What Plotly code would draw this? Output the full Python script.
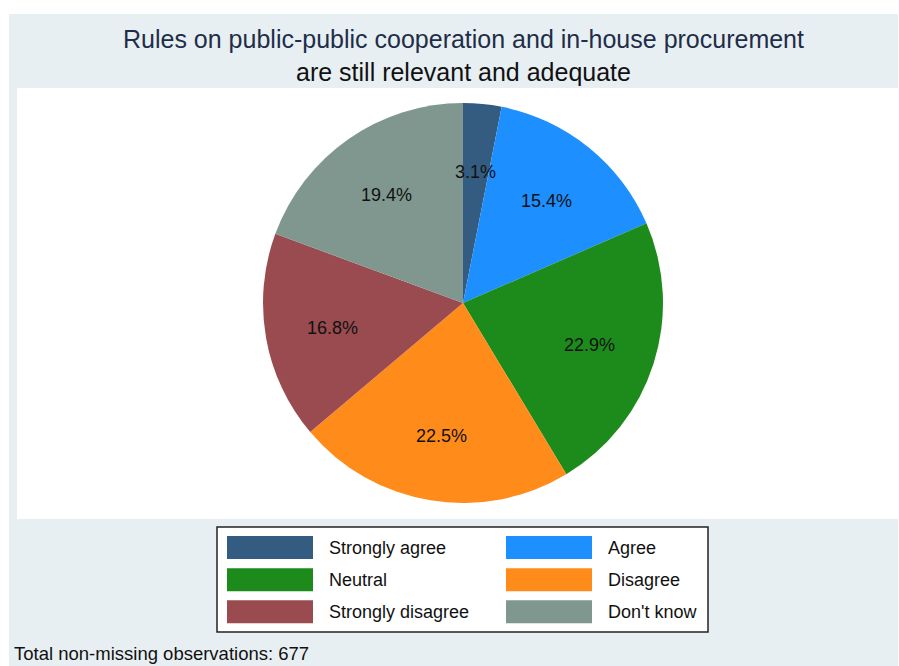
import math
import plotly.graph_objects as go

# ---- data ----
title_lines = ["Rules on public-public cooperation and in-house procurement",
               "are still relevant and adequate"]
categories = ["Strongly agree", "Agree", "Neutral", "Disagree", "Strongly disagree", "Don't know"]
percentages = [3.1, 15.4, 22.9, 22.5, 16.8, 19.4]
colors = ["#345B80", "#1E8FFF", "#1C8B1C", "#FF8C1A", "#994B50", "#7F978F"]
total_obs = 677
footnote = f"Total non-missing observations: {total_obs}"

# ---- layout geometry (window pixels, top-left origin) ----
W, H = 899, 666
FONT = "Liberation Sans, Arial, sans-serif"
cx, cy, R = 463, 303, 200          # pie centre / radius
label_frac = 0.665                  # label distance as fraction of radius


def px(x):
    return x / W


def py(y):
    return 1 - y / H


fig = go.Figure()
fig.add_trace(go.Pie(
    labels=categories,
    values=percentages,
    sort=False,
    direction="clockwise",
    rotation=0,
    marker=dict(colors=colors, line=dict(width=0)),
    textinfo="none",
    hoverinfo="label+percent",
    showlegend=False,
    domain=dict(x=[px(cx - R), px(cx + R)], y=[py(cy + R), py(cy - R)]),
))

shapes = []
annotations = []

# backgrounds
shapes.append(dict(type="rect", xref="paper", yref="paper", x0=px(9), x1=px(898), y0=py(H), y1=py(14),
                   fillcolor="#E8EFF2", line=dict(width=0), layer="below"))
shapes.append(dict(type="rect", xref="paper", yref="paper", x0=px(17), x1=px(898), y0=py(519), y1=py(88),
                   fillcolor="#FFFFFF", line=dict(width=0), layer="below"))

# slice labels, positioned from the data
total = sum(percentages)
cum = 0.0
for v in percentages:
    theta = 2 * math.pi * (cum + v / 2) / total
    lx = cx + label_frac * R * math.sin(theta)
    ly = cy - label_frac * R * math.cos(theta) + 1.5
    annotations.append(dict(x=px(lx), y=py(ly), xref="paper", yref="paper", text=f"{v:.1f}%",
                            showarrow=False, font=dict(family=FONT, size=18, color="#111111"),
                            xanchor="center", yanchor="middle"))
    cum += v

# title
annotations.append(dict(x=px(463.5), y=py(39), xref="paper", yref="paper", text=title_lines[0], showarrow=False,
                        font=dict(family=FONT, size=25, color="#1E2D48"), xanchor="center", yanchor="middle"))
annotations.append(dict(x=px(463.5), y=py(72), xref="paper", yref="paper", text=title_lines[1], showarrow=False,
                        font=dict(family=FONT, size=25, color="#111111"), xanchor="center", yanchor="middle"))

# custom legend
shapes.append(dict(type="rect", xref="paper", yref="paper", x0=px(217), x1=px(708), y0=py(632), y1=py(527),
                   fillcolor="#FFFFFF", line=dict(color="#222222", width=1.5)))
col_sw = [227, 506]
col_tx = [327, 606]
row_y = [547.5, 579.7, 611.7]
for i, (cat, col) in enumerate(zip(categories, colors)):
    r, c = divmod(i, 2)
    yc = row_y[r]
    shapes.append(dict(type="rect", xref="paper", yref="paper", x0=px(col_sw[c]), x1=px(col_sw[c] + 86),
                       y0=py(yc + 11.5), y1=py(yc - 11.5), fillcolor=col, line=dict(width=0)))
    annotations.append(dict(x=px(col_tx[c]), y=py(yc), xref="paper", yref="paper", text=cat, showarrow=False,
                            font=dict(family=FONT, size=18, color="#111111"), xanchor="left", yanchor="middle"))

# footnote
annotations.append(dict(x=px(12), y=py(653), xref="paper", yref="paper", text=footnote, showarrow=False,
                        font=dict(family=FONT, size=18.5, color="#111111"), xanchor="left", yanchor="middle"))

fig.update_layout(
    width=W, height=H, autosize=False,
    margin=dict(l=0, r=0, t=0, b=0),
    paper_bgcolor="#FFFFFF",
    plot_bgcolor="#FFFFFF",
    shapes=shapes,
    annotations=annotations,
    showlegend=False,
)

fig.write_html("out.html",
               config={"displayModeBar": False},
               post_script="document.body.style.margin='0';document.body.style.overflow='hidden';")
